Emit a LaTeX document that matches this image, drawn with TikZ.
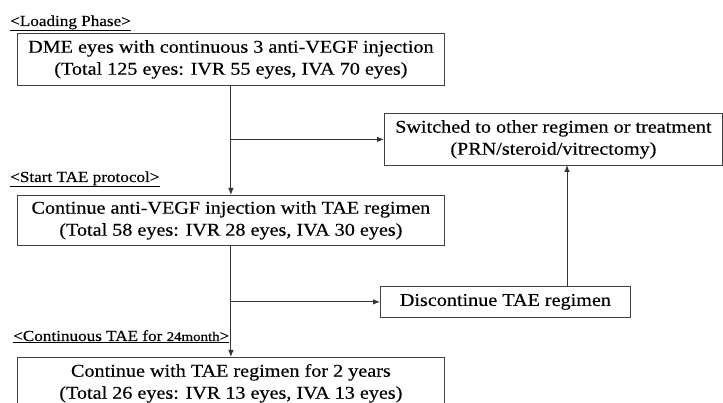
\documentclass[tikz,border=0pt]{standalone}
\usepackage{fontspec}
\setmainfont{Liberation Serif}[FakeStretch=1.12,FakeBold=0.35]
\usetikzlibrary{arrows.meta}
\begin{document}
\begin{tikzpicture}[x=1pt,y=-1pt,
  box/.style={draw=black!75, line width=0.8pt, rectangle, anchor=north west, inner sep=0pt, align=center, font=\fontsize{18}{22}\selectfont},
  lbl/.style={anchor=base west, inner sep=0pt, font=\fontsize{15.3}{17}\selectfont},
  conn/.style={draw=black!80, line width=0.9pt},
  arr/.style={conn, -{Latex[length=7pt,width=5.5pt]}}]
\useasboundingbox (0,0) rectangle (723,403);
\node[lbl] (l1) at (10,26) {\underline{<Loading Phase>}};
\node[lbl] (l2) at (10,182) {\underline{<Start TAE protocol>}};
\node[lbl] (l3) at (13,341) {\underline{<Continuous TAE for {\fontsize{13.3}{15}\selectfont 24month}>}};
\node[box, minimum width=427, minimum height=52] (b1) at (17,33)
  {DME eyes with continuous 3 anti-VEGF injection\\(Total 125 eyes: IVR 55 eyes, IVA 70 eyes)};
\node[box, minimum width=427, minimum height=50] (b2) at (17,195)
  {Continue anti-VEGF injection with TAE regimen\\(Total 58 eyes: IVR 28 eyes, IVA 30 eyes)};
\node[box, draw=none, minimum width=427, minimum height=48, text depth=0pt] (b3) at (17,357)
  {Continue with TAE regimen for 2 years\\(Total 26 eyes: IVR 13 eyes, IVA 13 eyes)};
\draw[draw=black!75, line width=0.8pt] ([yshift=-12pt]b3.south west) -- (b3.north west) -- (b3.north east) -- ([yshift=-12pt]b3.south east);
\node[box, minimum width=338, minimum height=52] (sw) at (384,113)
  {Switched to other regimen or treatment\\(PRN/steroid/vitrectomy)};
\node[box, minimum width=250, minimum height=31] (dc) at (380,286)
  {Discontinue TAE regimen};
\coordinate (j1) at (b1.south |- sw.west);
\coordinate (j2) at (b2.south |- dc.west);
\coordinate (u1) at (567,286);
\coordinate (u2) at (567,165);
\draw[arr] (b1.south) -- (b2.north);
\draw[arr] (j1) -- (sw.west);
\draw[arr] (b2.south) -- (b3.north);
\draw[arr] (j2) -- (dc.west);
\draw[arr] (u1) -- (u2);
\end{tikzpicture}
\end{document}
